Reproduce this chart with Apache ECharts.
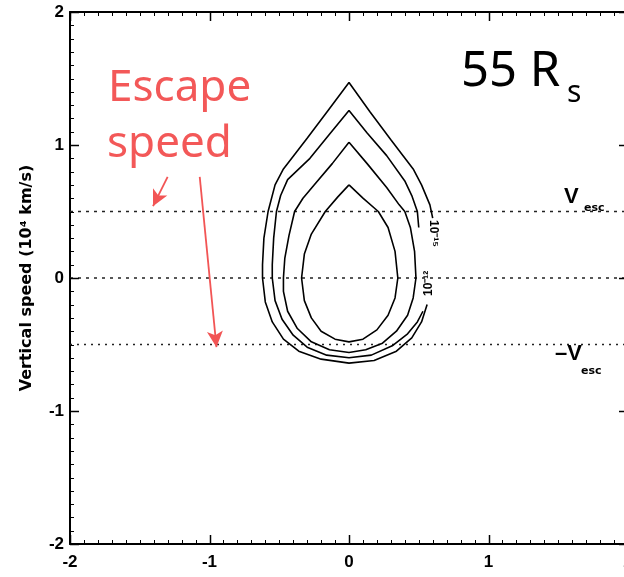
<!DOCTYPE html>
<html><head><meta charset="utf-8">
<script src="https://cdn.jsdelivr.net/npm/echarts@6/dist/echarts.min.js"></script>
<style>html,body{margin:0;padding:0;background:#fff}#c{width:624px;height:577px}</style>
</head><body><div id="c"></div>
<script>
// ---- data ----
const contourOuter = [[0.60,0.45],[0.58,0.55],[0.52,0.70],[0.46,0.82],[0.30,1.04],[0.15,1.25],[0,1.47],[-0.15,1.26],[-0.30,1.05],[-0.47,0.82],[-0.53,0.70],[-0.58,0.50],[-0.61,0.30],[-0.62,0.10],[-0.62,0.0],[-0.60,-0.18],[-0.55,-0.33],[-0.47,-0.46],[-0.36,-0.55],[-0.20,-0.61],[0,-0.64],[0.18,-0.62],[0.34,-0.55],[0.45,-0.45],[0.52,-0.33],[0.56,-0.20]];
const contourSecond = [[0.50,0.38],[0.49,0.50],[0.45,0.62],[0.40,0.73],[0.27,0.92],[0.13,1.09],[0,1.26],[-0.14,1.08],[-0.28,0.90],[-0.44,0.74],[-0.49,0.62],[-0.52,0.50],[-0.54,0.30],[-0.55,0.10],[-0.55,0.0],[-0.53,-0.17],[-0.48,-0.31],[-0.40,-0.43],[-0.30,-0.52],[-0.16,-0.58],[0,-0.60],[0.16,-0.58],[0.31,-0.51],[0.42,-0.42],[0.49,-0.33],[0.53,-0.25]];
const contourThird = [[0,1.02],[0.13,0.86],[0.27,0.68],[0.36,0.55],[0.40,0.50],[0.44,0.38],[0.47,0.20],[0.48,0.0],[0.46,-0.15],[0.42,-0.28],[0.34,-0.40],[0.24,-0.49],[0.12,-0.54],[0,-0.56],[-0.14,-0.54],[-0.27,-0.48],[-0.37,-0.38],[-0.44,-0.25],[-0.47,-0.10],[-0.47,0.0],[-0.46,0.15],[-0.43,0.32],[-0.39,0.50],[-0.33,0.60],[-0.25,0.70],[-0.12,0.86],[0,1.02]];
const contourInner = [[0,0.70],[0.10,0.60],[0.21,0.50],[0.28,0.38],[0.33,0.20],[0.35,0.0],[0.33,-0.15],[0.28,-0.28],[0.20,-0.39],[0.10,-0.46],[0,-0.48],[-0.10,-0.46],[-0.20,-0.40],[-0.27,-0.30],[-0.32,-0.17],[-0.34,0.0],[-0.32,0.18],[-0.27,0.33],[-0.17,0.50],[-0.08,0.61],[0,0.70]];
const refLevels = [0.5, 0, -0.5];
const axisRange = [-2, 2];
const minorPerMajor = 10;
const arrowShort = [[-1.30,0.76],[-1.405,0.54]];
const arrowLong = [[-1.07,0.76],[-0.95,-0.52]];
const yAxisTitle = 'Vertical speed (10\u2074 km/s)';

// ---- chart ----
const chart = echarts.init(document.getElementById('c'));
function tickFont(){ return {color:'#000', fontFamily:'Liberation Sans', fontWeight:'bold', fontSize:17}; }
function axLine(){ return {show:true, onZero:false, lineStyle:{color:'#000', width:2}}; }
function baseAxis(pos){
  return {type:'value', min:axisRange[0], max:axisRange[1], interval:1, position:pos,
    axisLine:axLine(), axisTick:{show:false}, minorTick:{show:false}, splitLine:{show:false}, minorSplitLine:{show:false}};
}

function contour(d){
  return {type:'line', data:d, showSymbol:false, symbol:'none', smooth:false, silent:true,
    lineStyle:{color:'#000', width:1.6}, z:3};
}
const series = [contour(contourOuter), contour(contourSecond), contour(contourThird), contour(contourInner)];
refLevels.forEach((v,i)=>{
  series.push({type:'line', data:[[axisRange[0],v],[axisRange[1],v]], showSymbol:false, symbol:'none', silent:true,
    lineStyle:{color:'#222', width:1.4, type: i===2 ? [2,5] : [3,5]}, z:2});
});
series.push({type:'line', data:[], silent:true,
  markLine:{silent:true, symbol:['none','arrow'], symbolSize:[12,16], label:{show:false},
    lineStyle:{color:'#f25555', width:1.8, type:'solid'},
    data:[[{coord:arrowShort[0]},{coord:arrowShort[1]}],[{coord:arrowLong[0]},{coord:arrowLong[1]}]]}});

const xb = baseAxis('bottom'); xb.axisLabel = Object.assign({margin:10, showMaxLabel:true}, tickFont());
const xt = baseAxis('top'); xt.axisLabel = {show:false};
const yl = baseAxis('left'); yl.axisLabel = Object.assign({margin:6}, tickFont());
Object.assign(yl, {name:yAxisTitle, nameLocation:'middle', nameGap:35, nameRotate:90,
  nameTextStyle:{color:'#000', fontFamily:'DejaVu Sans', fontWeight:'bold', fontSize:16}});
const yr = baseAxis('right'); yr.axisLabel = {show:false};

const graphics = [
  {id:'t1', type:'text', left:108, top:66, style:{text:'Escape', font:'44px "Noto Sans"', fill:'#f35858'}},
  {id:'t2', type:'text', left:107, top:122, style:{text:'speed', font:'44px "Noto Sans"', fill:'#f35858'}},
  {id:'t3', type:'text', left:461, top:48, style:{text:'55 R', font:'49px "Noto Sans"', fill:'#000'}},
  {id:'t4', type:'text', left:567, top:78, style:{text:'s', font:'30px "Noto Sans"', fill:'#000'}},
  {id:'t5', type:'text', left:564, top:186, style:{text:'V', font:'bold 22px Liberation Sans', fill:'#000'}},
  {id:'t6', type:'text', left:584, top:203, style:{text:'esc', font:'bold 11px DejaVu Sans', fill:'#000'}},
  {id:'t7', type:'text', left:555, top:343, style:{text:'\u2013V', font:'bold 22px Liberation Sans', fill:'#000'}},
  {id:'t8', type:'text', left:581, top:366, style:{text:'esc', font:'bold 11px DejaVu Sans', fill:'#000'}},
  {id:'t9', type:'text', x:439, y:220, rotation:-Math.PI/2, style:{text:'10\u207B\u00B9\u2075', font:'bold 12px Liberation Sans', fill:'#000'}},
  {id:'t10', type:'text', x:423, y:296, rotation:Math.PI/2, style:{text:'10\u207B\u00B9\u00B2', font:'bold 12px Liberation Sans', fill:'#000'}}
];

chart.setOption({
  animation:false,
  backgroundColor:'#fff',
  grid:{left:70, right:-4, top:12, bottom:33, containLabel:false, outerBoundsMode:'none'},
  xAxis:[xb, xt],
  yAxis:[yl, yr],
  series:series,
  graphic:graphics
});

// inward ticks on all four sides, positioned through the axis scales
const L = chart.convertToPixel({xAxisIndex:0}, axisRange[0]);
const R = chart.convertToPixel({xAxisIndex:0}, axisRange[1]);
const B = chart.convertToPixel({yAxisIndex:0}, axisRange[0]);
const T = chart.convertToPixel({yAxisIndex:0}, axisRange[1]);
const nTicks = (axisRange[1] - axisRange[0]) * minorPerMajor;
const tickEls = [];
for (let i = 0; i <= nTicks; i++) {
  const v = axisRange[0] + i / minorPerMajor;
  const major = i % minorPerMajor === 0;
  const len = major ? 9 : 4;
  const st = {stroke:'#000', lineWidth: major ? 1.5 : 1};
  const px = Math.round(chart.convertToPixel({xAxisIndex:0}, v)) + 0.5;
  const py = Math.round(chart.convertToPixel({yAxisIndex:0}, v)) + 0.5;
  tickEls.push({id:'bx'+i, type:'line', z:100, silent:true, shape:{x1:px, y1:B, x2:px, y2:B-len}, style:st});
  tickEls.push({id:'tx'+i, type:'line', z:100, silent:true, shape:{x1:px, y1:T, x2:px, y2:T+len}, style:st});
  tickEls.push({id:'ly'+i, type:'line', z:100, silent:true, shape:{x1:L, y1:py, x2:L+len, y2:py}, style:st});
  tickEls.push({id:'ry'+i, type:'line', z:100, silent:true, shape:{x1:R, y1:py, x2:R-len, y2:py}, style:st});
}
chart.setOption({graphic: graphics.concat(tickEls)});
</script></body></html>
